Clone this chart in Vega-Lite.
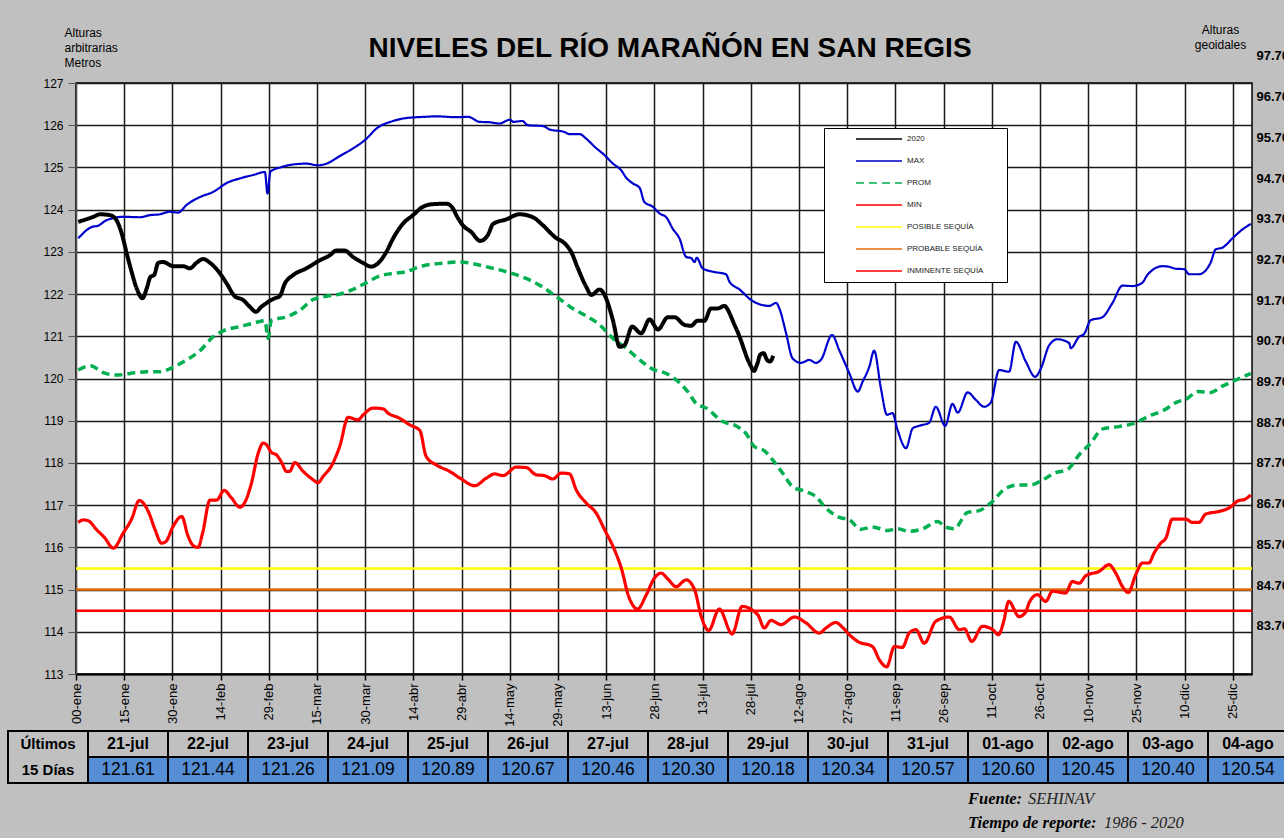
{
"$schema":"https://vega.github.io/schema/vega-lite/v6.json",
"width":1176,"height":591,
"autosize":"none",
"padding":{"left":76,"top":83,"right":32,"bottom":164},
"background":"#c0c0c0",
"config":{"view":{"fill":"white","stroke":"black","strokeWidth":1.5},"font":"Liberation Sans","axis":{"labelColor":"black","titleColor":"black"}},
"title":{"text":"NIVELES DEL RÍO MARAÑÓN EN SAN REGIS","fontSize":28,"font":"Liberation Sans","fontWeight":"bold","color":"black","anchor":"middle","frame":"group","offset":-62,"baseline":"alphabetic","dx":6},
"datasets":{
"umbrales":[{"serie":"POSIBLE SEQUÍA","nivel":115.5},{"serie":"PROBABLE SEQUÍA","nivel":115.0},{"serie":"INMINENTE SEQUÍA","nivel":114.5}],
"s2020":[{"dia":0.7,"nivel":123.71},{"dia":5.4,"nivel":123.83},{"dia":7.5,"nivel":123.89},{"dia":10.6,"nivel":123.87},{"dia":12.6,"nivel":123.75},{"dia":14.2,"nivel":123.44},{"dia":15.8,"nivel":122.96},{"dia":17.3,"nivel":122.53},{"dia":18.9,"nivel":122.13},{"dia":20.7,"nivel":121.9},{"dia":22,"nivel":122.13},{"dia":23.2,"nivel":122.41},{"dia":24.3,"nivel":122.45},{"dia":25.6,"nivel":122.74},{"dia":27.1,"nivel":122.76},{"dia":30.3,"nivel":122.66},{"dia":33.4,"nivel":122.66},{"dia":35.4,"nivel":122.61},{"dia":37.5,"nivel":122.74},{"dia":39.6,"nivel":122.83},{"dia":41.7,"nivel":122.74},{"dia":44.8,"nivel":122.49},{"dia":46.9,"nivel":122.25},{"dia":49.4,"nivel":121.95},{"dia":52,"nivel":121.86},{"dia":54.1,"nivel":121.7},{"dia":56,"nivel":121.58},{"dia":57.7,"nivel":121.7},{"dia":58.8,"nivel":121.76},{"dia":60.3,"nivel":121.84},{"dia":61.9,"nivel":121.9},{"dia":63.4,"nivel":121.95},{"dia":65,"nivel":122.25},{"dia":67.6,"nivel":122.45},{"dia":71.7,"nivel":122.61},{"dia":75.9,"nivel":122.8},{"dia":79,"nivel":122.92},{"dia":81,"nivel":123.03},{"dia":83.6,"nivel":123.03},{"dia":86.2,"nivel":122.88},{"dia":89.3,"nivel":122.74},{"dia":91.9,"nivel":122.65},{"dia":94,"nivel":122.73},{"dia":96.6,"nivel":123.0},{"dia":98.7,"nivel":123.32},{"dia":101.8,"nivel":123.67},{"dia":104.9,"nivel":123.87},{"dia":108,"nivel":124.07},{"dia":111.1,"nivel":124.13},{"dia":115.3,"nivel":124.14},{"dia":117.3,"nivel":124.03},{"dia":118.5,"nivel":123.85},{"dia":120.4,"nivel":123.63},{"dia":123,"nivel":123.47},{"dia":125.8,"nivel":123.26},{"dia":128.2,"nivel":123.4},{"dia":129.8,"nivel":123.66},{"dia":133.9,"nivel":123.77},{"dia":138,"nivel":123.89},{"dia":142.2,"nivel":123.82},{"dia":145.3,"nivel":123.63},{"dia":148.9,"nivel":123.36},{"dia":152.6,"nivel":123.16},{"dia":154.1,"nivel":123.0},{"dia":156.2,"nivel":122.61},{"dia":158.8,"nivel":122.17},{"dia":160.4,"nivel":121.98},{"dia":163,"nivel":122.11},{"dia":164.5,"nivel":121.98},{"dia":167.1,"nivel":121.38},{"dia":169.2,"nivel":120.75},{"dia":170.7,"nivel":120.79},{"dia":173.1,"nivel":121.23},{"dia":175.9,"nivel":121.07},{"dia":178.5,"nivel":121.4},{"dia":181.1,"nivel":121.16},{"dia":184.2,"nivel":121.45},{"dia":186.3,"nivel":121.45},{"dia":189.4,"nivel":121.27},{"dia":191.4,"nivel":121.25},{"dia":193.5,"nivel":121.37},{"dia":195.6,"nivel":121.37},{"dia":197.6,"nivel":121.66},{"dia":199.7,"nivel":121.66},{"dia":201.8,"nivel":121.72},{"dia":203,"nivel":121.61},{"dia":204,"nivel":121.44},{"dia":205,"nivel":121.26},{"dia":206,"nivel":121.09},{"dia":207,"nivel":120.89},{"dia":208,"nivel":120.67},{"dia":209,"nivel":120.46},{"dia":210,"nivel":120.30},{"dia":211,"nivel":120.18},{"dia":212,"nivel":120.34},{"dia":213,"nivel":120.57},{"dia":214,"nivel":120.60},{"dia":215,"nivel":120.45},{"dia":216,"nivel":120.40},{"dia":217,"nivel":120.54}],
"max":[{"dia":0.7,"nivel":123.32},{"dia":4.9,"nivel":123.59},{"dia":6.9,"nivel":123.62},{"dia":9.5,"nivel":123.75},{"dia":14.7,"nivel":123.83},{"dia":19.9,"nivel":123.82},{"dia":23,"nivel":123.87},{"dia":26.1,"nivel":123.89},{"dia":29.2,"nivel":123.95},{"dia":31.8,"nivel":123.93},{"dia":34.4,"nivel":124.11},{"dia":38.6,"nivel":124.3},{"dia":42.7,"nivel":124.42},{"dia":46.9,"nivel":124.63},{"dia":51,"nivel":124.74},{"dia":55.1,"nivel":124.82},{"dia":58.8,"nivel":124.89},{"dia":59.6,"nivel":124.38},{"dia":60.5,"nivel":124.9},{"dia":64,"nivel":125.01},{"dia":67.6,"nivel":125.07},{"dia":71.7,"nivel":125.09},{"dia":75.3,"nivel":125.05},{"dia":78,"nivel":125.09},{"dia":82.1,"nivel":125.27},{"dia":86.2,"nivel":125.45},{"dia":90.4,"nivel":125.68},{"dia":93.5,"nivel":125.92},{"dia":98.7,"nivel":126.1},{"dia":102.8,"nivel":126.17},{"dia":109,"nivel":126.2},{"dia":112.2,"nivel":126.21},{"dia":118.4,"nivel":126.19},{"dia":122,"nivel":126.2},{"dia":125.6,"nivel":126.08},{"dia":128.7,"nivel":126.07},{"dia":131.8,"nivel":126.04},{"dia":135,"nivel":126.13},{"dia":136.2,"nivel":126.08},{"dia":138.9,"nivel":126.1},{"dia":140.6,"nivel":126.0},{"dia":145.3,"nivel":125.98},{"dia":147.4,"nivel":125.9},{"dia":152,"nivel":125.84},{"dia":153.6,"nivel":125.79},{"dia":156.7,"nivel":125.79},{"dia":158.8,"nivel":125.68},{"dia":161.4,"nivel":125.49},{"dia":164.5,"nivel":125.29},{"dia":167.1,"nivel":125.09},{"dia":169.7,"nivel":124.93},{"dia":171.2,"nivel":124.76},{"dia":173.3,"nivel":124.62},{"dia":175.4,"nivel":124.52},{"dia":176.9,"nivel":124.18},{"dia":179.5,"nivel":124.07},{"dia":181.6,"nivel":123.91},{"dia":183.7,"nivel":123.82},{"dia":185.7,"nivel":123.55},{"dia":187.8,"nivel":123.32},{"dia":189.9,"nivel":122.88},{"dia":191.5,"nivel":122.85},{"dia":192.5,"nivel":122.76},{"dia":193.2,"nivel":122.86},{"dia":195,"nivel":122.61},{"dia":198.2,"nivel":122.53},{"dia":202.3,"nivel":122.47},{"dia":203.4,"nivel":122.29},{"dia":206.5,"nivel":122.11},{"dia":210.1,"nivel":121.86},{"dia":212.7,"nivel":121.76},{"dia":215.8,"nivel":121.72},{"dia":217.9,"nivel":121.79},{"dia":218.9,"nivel":121.66},{"dia":221,"nivel":121.07},{"dia":223,"nivel":120.48},{"dia":225.6,"nivel":120.37},{"dia":228.2,"nivel":120.44},{"dia":230.3,"nivel":120.37},{"dia":231.9,"nivel":120.45},{"dia":235.3,"nivel":121.03},{"dia":237.6,"nivel":120.66},{"dia":240.7,"nivel":120.12},{"dia":243.3,"nivel":119.69},{"dia":244.8,"nivel":119.92},{"dia":246.9,"nivel":120.28},{"dia":248.4,"nivel":120.66},{"dia":250.5,"nivel":119.77},{"dia":252.4,"nivel":119.14},{"dia":254.1,"nivel":119.18},{"dia":255.7,"nivel":118.78},{"dia":258.3,"nivel":118.35},{"dia":260.4,"nivel":118.82},{"dia":262.4,"nivel":118.88},{"dia":265.5,"nivel":118.95},{"dia":267.6,"nivel":119.33},{"dia":270.5,"nivel":118.88},{"dia":272.8,"nivel":119.4},{"dia":274.4,"nivel":119.19},{"dia":277.5,"nivel":119.67},{"dia":280.1,"nivel":119.49},{"dia":282.6,"nivel":119.33},{"dia":284.7,"nivel":119.43},{"dia":287.3,"nivel":120.2},{"dia":290.4,"nivel":120.16},{"dia":292.5,"nivel":120.87},{"dia":295.6,"nivel":120.4},{"dia":298.5,"nivel":120.04},{"dia":300.3,"nivel":120.24},{"dia":302.9,"nivel":120.79},{"dia":305.4,"nivel":120.93},{"dia":309.1,"nivel":120.84},{"dia":309.6,"nivel":120.72},{"dia":312.2,"nivel":120.99},{"dia":313.7,"nivel":121.05},{"dia":315.8,"nivel":121.38},{"dia":319.4,"nivel":121.45},{"dia":322.5,"nivel":121.78},{"dia":325.7,"nivel":122.2},{"dia":328.8,"nivel":122.19},{"dia":331.9,"nivel":122.27},{"dia":333.4,"nivel":122.45},{"dia":338.1,"nivel":122.66},{"dia":340,"nivel":122.65},{"dia":342.3,"nivel":122.6},{"dia":344.9,"nivel":122.59},{"dia":346.4,"nivel":122.47},{"dia":349.5,"nivel":122.47},{"dia":353.1,"nivel":122.74},{"dia":354.7,"nivel":123.06},{"dia":356.8,"nivel":123.1},{"dia":359.9,"nivel":123.32},{"dia":363,"nivel":123.53},{"dia":365.6,"nivel":123.66}],
"prom":[{"dia":0.7,"nivel":120.2},{"dia":4.4,"nivel":120.3},{"dia":8.5,"nivel":120.14},{"dia":12.6,"nivel":120.08},{"dia":16.8,"nivel":120.12},{"dia":22,"nivel":120.16},{"dia":26.1,"nivel":120.16},{"dia":30.3,"nivel":120.27},{"dia":34.4,"nivel":120.44},{"dia":38.6,"nivel":120.66},{"dia":42.7,"nivel":120.99},{"dia":45.8,"nivel":121.13},{"dia":51,"nivel":121.23},{"dia":55.1,"nivel":121.31},{"dia":58.8,"nivel":121.37},{"dia":59.8,"nivel":120.95},{"dia":60.8,"nivel":121.38},{"dia":65.5,"nivel":121.46},{"dia":69.7,"nivel":121.62},{"dia":73.8,"nivel":121.87},{"dia":78,"nivel":121.95},{"dia":82.1,"nivel":122.0},{"dia":86.2,"nivel":122.11},{"dia":90.4,"nivel":122.27},{"dia":94.5,"nivel":122.43},{"dia":98.7,"nivel":122.49},{"dia":102.8,"nivel":122.53},{"dia":107,"nivel":122.65},{"dia":111.1,"nivel":122.71},{"dia":115.3,"nivel":122.74},{"dia":119.4,"nivel":122.76},{"dia":123.5,"nivel":122.72},{"dia":128.7,"nivel":122.63},{"dia":133.9,"nivel":122.53},{"dia":139.1,"nivel":122.4},{"dia":144.3,"nivel":122.21},{"dia":149.5,"nivel":121.94},{"dia":154.6,"nivel":121.66},{"dia":158.8,"nivel":121.48},{"dia":163,"nivel":121.27},{"dia":167.1,"nivel":120.95},{"dia":171.2,"nivel":120.72},{"dia":175.4,"nivel":120.44},{"dia":179.5,"nivel":120.22},{"dia":183.7,"nivel":120.12},{"dia":187.8,"nivel":119.9},{"dia":190.5,"nivel":119.68},{"dia":193,"nivel":119.41},{"dia":196.1,"nivel":119.3},{"dia":201.3,"nivel":118.98},{"dia":205.4,"nivel":118.88},{"dia":208.5,"nivel":118.7},{"dia":211.1,"nivel":118.39},{"dia":214.2,"nivel":118.29},{"dia":216.8,"nivel":118.07},{"dia":219.9,"nivel":117.76},{"dia":223,"nivel":117.44},{"dia":227.2,"nivel":117.32},{"dia":230.3,"nivel":117.2},{"dia":233.4,"nivel":116.93},{"dia":237.6,"nivel":116.71},{"dia":240.7,"nivel":116.65},{"dia":244.3,"nivel":116.43},{"dia":247.9,"nivel":116.48},{"dia":252.6,"nivel":116.4},{"dia":255.7,"nivel":116.44},{"dia":259.3,"nivel":116.38},{"dia":263.5,"nivel":116.44},{"dia":268.1,"nivel":116.61},{"dia":270.7,"nivel":116.48},{"dia":273.3,"nivel":116.44},{"dia":277.5,"nivel":116.83},{"dia":281.1,"nivel":116.87},{"dia":284.7,"nivel":117.05},{"dia":289.4,"nivel":117.4},{"dia":293.5,"nivel":117.48},{"dia":297.2,"nivel":117.48},{"dia":300.8,"nivel":117.6},{"dia":304.9,"nivel":117.77},{"dia":308.5,"nivel":117.84},{"dia":312.2,"nivel":118.19},{"dia":315.8,"nivel":118.47},{"dia":319.4,"nivel":118.8},{"dia":324.6,"nivel":118.86},{"dia":329.8,"nivel":118.95},{"dia":333.9,"nivel":119.11},{"dia":338.6,"nivel":119.25},{"dia":342.3,"nivel":119.43},{"dia":345.9,"nivel":119.53},{"dia":349,"nivel":119.69},{"dia":353.1,"nivel":119.67},{"dia":356.8,"nivel":119.82},{"dia":361.4,"nivel":119.98},{"dia":365.6,"nivel":120.12}],
"min":[{"dia":0.7,"nivel":116.59},{"dia":2.3,"nivel":116.65},{"dia":3.8,"nivel":116.63},{"dia":6.4,"nivel":116.42},{"dia":9,"nivel":116.22},{"dia":11.6,"nivel":115.98},{"dia":14.7,"nivel":116.34},{"dia":17.3,"nivel":116.67},{"dia":19.7,"nivel":117.11},{"dia":22.5,"nivel":116.85},{"dia":24.6,"nivel":116.42},{"dia":26.6,"nivel":116.1},{"dia":28,"nivel":116.14},{"dia":30.1,"nivel":116.48},{"dia":32.9,"nivel":116.73},{"dia":34.9,"nivel":116.26},{"dia":36.5,"nivel":116.04},{"dia":38,"nivel":116.0},{"dia":39.4,"nivel":116.34},{"dia":41.7,"nivel":117.12},{"dia":43.8,"nivel":117.12},{"dia":46.1,"nivel":117.35},{"dia":48.4,"nivel":117.17},{"dia":51,"nivel":116.95},{"dia":52,"nivel":117.0},{"dia":54.6,"nivel":117.52},{"dia":56.7,"nivel":118.23},{"dia":58.3,"nivel":118.47},{"dia":59.3,"nivel":118.43},{"dia":60.8,"nivel":118.25},{"dia":62.4,"nivel":118.19},{"dia":64,"nivel":118.01},{"dia":65.5,"nivel":117.8},{"dia":66.5,"nivel":117.8},{"dia":68.1,"nivel":118.01},{"dia":70.7,"nivel":117.8},{"dia":73.8,"nivel":117.6},{"dia":75.3,"nivel":117.53},{"dia":76.9,"nivel":117.68},{"dia":79.5,"nivel":117.93},{"dia":82.1,"nivel":118.4},{"dia":84.7,"nivel":119.08},{"dia":87.8,"nivel":119.02},{"dia":89.4,"nivel":119.14},{"dia":92.5,"nivel":119.3},{"dia":95.6,"nivel":119.28},{"dia":97.1,"nivel":119.18},{"dia":100.7,"nivel":119.06},{"dia":103.9,"nivel":118.9},{"dia":107,"nivel":118.77},{"dia":109,"nivel":118.15},{"dia":112.2,"nivel":117.95},{"dia":116.3,"nivel":117.8},{"dia":119.9,"nivel":117.62},{"dia":124.1,"nivel":117.46},{"dia":127.7,"nivel":117.64},{"dia":130.3,"nivel":117.74},{"dia":132.9,"nivel":117.7},{"dia":137,"nivel":117.9},{"dia":140.1,"nivel":117.89},{"dia":143.2,"nivel":117.72},{"dia":145.8,"nivel":117.7},{"dia":148.4,"nivel":117.62},{"dia":151,"nivel":117.76},{"dia":153.6,"nivel":117.74},{"dia":155.7,"nivel":117.36},{"dia":158.8,"nivel":117.05},{"dia":161.9,"nivel":116.81},{"dia":164.5,"nivel":116.42},{"dia":167.6,"nivel":115.94},{"dia":169.7,"nivel":115.51},{"dia":172,"nivel":114.84},{"dia":174.8,"nivel":114.54},{"dia":177.5,"nivel":114.88},{"dia":180,"nivel":115.27},{"dia":182.1,"nivel":115.39},{"dia":184.2,"nivel":115.25},{"dia":186.8,"nivel":115.07},{"dia":189.9,"nivel":115.23},{"dia":192.5,"nivel":115.0},{"dia":194.6,"nivel":114.36},{"dia":196.9,"nivel":114.03},{"dia":200.2,"nivel":114.54},{"dia":204.2,"nivel":113.95},{"dia":207.3,"nivel":114.6},{"dia":212.2,"nivel":114.4},{"dia":214.2,"nivel":114.09},{"dia":216.3,"nivel":114.27},{"dia":219.4,"nivel":114.17},{"dia":223.6,"nivel":114.35},{"dia":227.2,"nivel":114.21},{"dia":231.3,"nivel":113.97},{"dia":233.4,"nivel":114.09},{"dia":236.5,"nivel":114.22},{"dia":238.6,"nivel":114.1},{"dia":240.7,"nivel":113.93},{"dia":243.3,"nivel":113.77},{"dia":247.9,"nivel":113.65},{"dia":250,"nivel":113.34},{"dia":252.3,"nivel":113.17},{"dia":254.7,"nivel":113.65},{"dia":257.2,"nivel":113.63},{"dia":259.3,"nivel":113.97},{"dia":261.4,"nivel":114.05},{"dia":264,"nivel":113.73},{"dia":267.6,"nivel":114.25},{"dia":271.8,"nivel":114.35},{"dia":274.9,"nivel":114.05},{"dia":276.5,"nivel":114.07},{"dia":278.8,"nivel":113.77},{"dia":282.1,"nivel":114.13},{"dia":285.3,"nivel":114.05},{"dia":287.1,"nivel":113.93},{"dia":288.6,"nivel":114.21},{"dia":290.3,"nivel":114.72},{"dia":293.5,"nivel":114.36},{"dia":295.6,"nivel":114.47},{"dia":296.6,"nivel":114.68},{"dia":299.2,"nivel":114.88},{"dia":301.8,"nivel":114.72},{"dia":303.9,"nivel":114.96},{"dia":308,"nivel":114.92},{"dia":310.1,"nivel":115.19},{"dia":312.2,"nivel":115.15},{"dia":314.3,"nivel":115.33},{"dia":318.4,"nivel":115.43},{"dia":321.5,"nivel":115.59},{"dia":323.6,"nivel":115.39},{"dia":325.7,"nivel":115.07},{"dia":327.5,"nivel":114.93},{"dia":329.8,"nivel":115.35},{"dia":331.9,"nivel":115.63},{"dia":333.9,"nivel":115.63},{"dia":335.5,"nivel":115.86},{"dia":337.6,"nivel":116.1},{"dia":339.2,"nivel":116.22},{"dia":341.2,"nivel":116.67},{"dia":345.4,"nivel":116.67},{"dia":347.4,"nivel":116.59},{"dia":349.5,"nivel":116.59},{"dia":351.6,"nivel":116.79},{"dia":355.7,"nivel":116.85},{"dia":358.8,"nivel":116.93},{"dia":361.9,"nivel":117.11},{"dia":363.5,"nivel":117.13},{"dia":365.6,"nivel":117.24}],
"tabla":[{"fecha":"21-jul","nivel":121.61},{"fecha":"22-jul","nivel":121.44},{"fecha":"23-jul","nivel":121.26},{"fecha":"24-jul","nivel":121.09},{"fecha":"25-jul","nivel":120.89},{"fecha":"26-jul","nivel":120.67},{"fecha":"27-jul","nivel":120.46},{"fecha":"28-jul","nivel":120.30},{"fecha":"29-jul","nivel":120.18},{"fecha":"30-jul","nivel":120.34},{"fecha":"31-jul","nivel":120.57},{"fecha":"01-ago","nivel":120.60},{"fecha":"02-ago","nivel":120.45},{"fecha":"03-ago","nivel":120.40},{"fecha":"04-ago","nivel":120.54}],
"cabecera":[{"fecha":"Últimos","linea1":"Últimos","linea2":"15 Días"}],
"fuente":[{"etiqueta":"Fuente:","valor":"SEHINAV"}],
"reporte":[{"etiqueta":"Tiempo de reporte:","valor":"1986 - 2020"}]
},
"layer":[
{"layer":[
 {"data":{"name":"umbrales"},"mark":{"type":"rule","strokeWidth":2.5},
  "encoding":{
   "y":{"field":"nivel","type":"quantitative","scale":{"domain":[113,127],"nice":false,"zero":false},
    "axis":{"values":[113,114,115,116,117,118,119,120,121,122,123,124,125,126,127],"labelFontSize":12,"labelPadding":5,"grid":true,"gridColor":"#1a1a1a","gridWidth":1.5,"gridOpacity":1,"tickColor":"#555","tickSize":8,"domainColor":"#555","domainWidth":1,"labelOverlap":false,"labelFlush":false,"title":["Alturas","arbitrarias","Metros"],"titleAngle":0,"titleAlign":"left","titleBaseline":"top","titleX":-12,"titleY":-56,"titleFontSize":12,"titleFontWeight":"normal","titleLineHeight":15}},
   "color":{"field":"serie","type":"nominal","scale":{"domain":["2020","MAX","PROM","MIN","POSIBLE SEQUÍA","PROBABLE SEQUÍA","INMINENTE SEQUÍA"],"range":["#000000","#0000cc","#00b050","#ff0000","#ffff00","#e46c0a","#ff0000"]},
    "legend":{"title":" ","titleOrient":"right","titleFontSize":4,"titlePadding":24,"orient":"none","legendX":748,"legendY":45,"fillColor":"white","strokeColor":"black","padding":0,"symbolType":"stroke","symbolSize":2116,"symbolStrokeWidth":1.5,"clipHeight":22,"rowPadding":0,"symbolOffset":31,"labelOffset":4,"labelFontSize":8,"labelFont":"Liberation Sans","labelColor":"#222"}},
   "strokeDash":{"field":"serie","type":"nominal","scale":{"domain":["2020","MAX","PROM","MIN","POSIBLE SEQUÍA","PROBABLE SEQUÍA","INMINENTE SEQUÍA"],"range":[[1,0],[1,0],[8,5],[1,0],[1,0],[1,0],[1,0]]},
    "legend":{"title":" ","titleOrient":"right","titleFontSize":4,"titlePadding":24,"orient":"none","legendX":748,"legendY":45,"fillColor":"white","strokeColor":"black","padding":0,"symbolType":"stroke","symbolSize":2116,"symbolStrokeWidth":1.5,"clipHeight":22,"rowPadding":0,"symbolOffset":31,"labelOffset":4,"labelFontSize":8,"labelFont":"Liberation Sans","labelColor":"#222"}}
  }},
 {"data":{"name":"max"},"mark":{"type":"line","strokeWidth":2.2,"interpolate":"monotone"},
  "encoding":{
   "x":{"field":"dia","type":"quantitative","scale":{"domain":[0,366],"nice":false,"zero":false},
    "axis":{"values":[0,15,30,45,60,75,90,105,120,135,150,165,180,195,210,225,240,255,270,285,300,315,330,345,360],
     "labelExpr":"['00-ene','15-ene','30-ene','14-feb','29-feb','15-mar','30-mar','14-abr','29-abr','14-may','29-may','13-jun','28-jun','13-jul','28-jul','12-ago','27-ago','11-sep','26-sep','11-oct','26-oct','10-nov','25-nov','10-dic','25-dic'][round(datum.value/15)]",
     "labelAngle":270,"labelAlign":"right","labelBaseline":"middle","labelFontSize":13,"labelPadding":3,"labelOverlap":false,"labelFlush":false,"grid":true,"gridColor":"#1a1a1a","gridWidth":1.5,"gridOpacity":1,"tickColor":"black","tickSize":6,"tickWidth":1.5,"domainColor":"black","domainWidth":2,"title":null}},
   "y":{"field":"nivel","type":"quantitative"},
   "color":{"datum":"MAX"},"strokeDash":{"datum":"MAX"}}},
 {"data":{"name":"prom"},"mark":{"type":"line","strokeWidth":3.5,"interpolate":"monotone"},
  "encoding":{"x":{"field":"dia","type":"quantitative"},"y":{"field":"nivel","type":"quantitative"},"color":{"datum":"PROM"},"strokeDash":{"datum":"PROM"}}},
 {"data":{"name":"min"},"mark":{"type":"line","strokeWidth":3.2,"interpolate":"monotone"},
  "encoding":{"x":{"field":"dia","type":"quantitative"},"y":{"field":"nivel","type":"quantitative"},"color":{"datum":"MIN"},"strokeDash":{"datum":"MIN"}}},
 {"data":{"name":"s2020"},"mark":{"type":"line","strokeWidth":4,"interpolate":"monotone"},
  "encoding":{"x":{"field":"dia","type":"quantitative"},"y":{"field":"nivel","type":"quantitative"},"color":{"datum":"2020"},"strokeDash":{"datum":"2020"}}}
]},
{"data":{"values":[{"geoidal":83.7},{"geoidal":97.7}]},"mark":{"type":"point","opacity":0},
 "encoding":{"y":{"field":"geoidal","type":"quantitative","scale":{"domain":[83.7,97.7],"range":[542.7,-27.1],"nice":false,"zero":false},
  "axis":{"orient":"right","values":[83.7,84.7,85.7,86.7,87.7,88.7,89.7,90.7,91.7,92.7,93.7,94.7,95.7,96.7,97.7],"format":".2f","labelFontSize":13,"labelFontWeight":"bold","labelPadding":4,"ticks":false,"domain":false,"grid":false,"labelOverlap":false,"labelFlush":false,"title":["Alturas","geoidales"],"titleAngle":0,"titleAlign":"center","titleBaseline":"top","titleX":-32,"titleY":-59,"titleFontSize":12,"titleFontWeight":"normal","titleLineHeight":15}}}},
{"layer":[
 {"data":{"name":"tabla"},"mark":{"type":"rect","fill":"#c0c0c0","stroke":"black","strokeWidth":2},
  "encoding":{"x":{"field":"fecha","type":"nominal","scale":{"type":"band","domain":["Últimos","21-jul","22-jul","23-jul","24-jul","25-jul","26-jul","27-jul","28-jul","29-jul","30-jul","31-jul","01-ago","02-ago","03-ago","04-ago"],"range":[-68,1212],"paddingInner":0,"paddingOuter":0},"axis":null},
   "y":{"datum":0,"type":"quantitative","scale":{"domain":[0,2],"range":[648,700],"nice":false,"zero":false},"axis":null},"y2":{"datum":1}}},
 {"data":{"name":"tabla"},"mark":{"type":"rect","fill":"#558ed5","stroke":"black","strokeWidth":2},
  "encoding":{"x":{"field":"fecha","type":"nominal"},"y":{"datum":1,"type":"quantitative"},"y2":{"datum":2}}},
 {"data":{"name":"cabecera"},"mark":{"type":"rect","fill":"#c0c0c0","stroke":"black","strokeWidth":2},
  "encoding":{"x":{"field":"fecha","type":"nominal"},"y":{"datum":0,"type":"quantitative"},"y2":{"datum":2}}},
 {"data":{"name":"cabecera"},"mark":{"type":"text","fontWeight":"bold","fontSize":15,"font":"Liberation Sans Narrow, Liberation Sans","color":"black","baseline":"middle"},
  "encoding":{"x":{"field":"fecha","type":"nominal"},"y":{"datum":0.5,"type":"quantitative"},"text":{"field":"linea1"}}},
 {"data":{"name":"cabecera"},"mark":{"type":"text","fontWeight":"bold","fontSize":15,"font":"Liberation Sans Narrow, Liberation Sans","color":"black","baseline":"middle"},
  "encoding":{"x":{"field":"fecha","type":"nominal"},"y":{"datum":1.5,"type":"quantitative"},"text":{"field":"linea2"}}},
 {"data":{"name":"tabla"},"mark":{"type":"text","fontWeight":"bold","fontSize":16,"font":"Liberation Sans Narrow, Liberation Sans","color":"black","baseline":"middle"},
  "encoding":{"x":{"field":"fecha","type":"nominal"},"y":{"datum":0.5,"type":"quantitative"},"text":{"field":"fecha"}}},
 {"data":{"name":"tabla"},"mark":{"type":"text","fontSize":17.5,"font":"Liberation Sans Narrow, Liberation Sans","color":"black","baseline":"middle"},
  "encoding":{"x":{"field":"fecha","type":"nominal"},"y":{"datum":1.5,"type":"quantitative"},"text":{"field":"nivel","format":".2f"}}},
 {"data":{"name":"fuente"},"mark":{"type":"text","fontWeight":"bold","fontStyle":"italic","fontSize":16.5,"font":"Liberation Serif","color":"black","baseline":"middle","align":"left"},
  "encoding":{"x":{"datum":"01-ago","type":"nominal","bandPosition":0},"y":{"datum":2.62,"type":"quantitative"},"text":{"field":"etiqueta"}}},
 {"data":{"name":"fuente"},"mark":{"type":"text","fontStyle":"italic","fontSize":16.5,"font":"Liberation Serif","color":"#222","baseline":"middle","align":"left","dx":60},
  "encoding":{"x":{"datum":"01-ago","type":"nominal","bandPosition":0},"y":{"datum":2.62,"type":"quantitative"},"text":{"field":"valor"}}},
 {"data":{"name":"reporte"},"mark":{"type":"text","fontWeight":"bold","fontStyle":"italic","fontSize":16.5,"font":"Liberation Serif","color":"black","baseline":"middle","align":"left"},
  "encoding":{"x":{"datum":"01-ago","type":"nominal","bandPosition":0},"y":{"datum":3.53,"type":"quantitative"},"text":{"field":"etiqueta"}}},
 {"data":{"name":"reporte"},"mark":{"type":"text","fontStyle":"italic","fontSize":16.5,"font":"Liberation Serif","color":"#222","baseline":"middle","align":"left","dx":136},
  "encoding":{"x":{"datum":"01-ago","type":"nominal","bandPosition":0},"y":{"datum":3.53,"type":"quantitative"},"text":{"field":"valor"}}}
]}
],
"resolve":{"scale":{"x":"independent","y":"independent"}}
}
